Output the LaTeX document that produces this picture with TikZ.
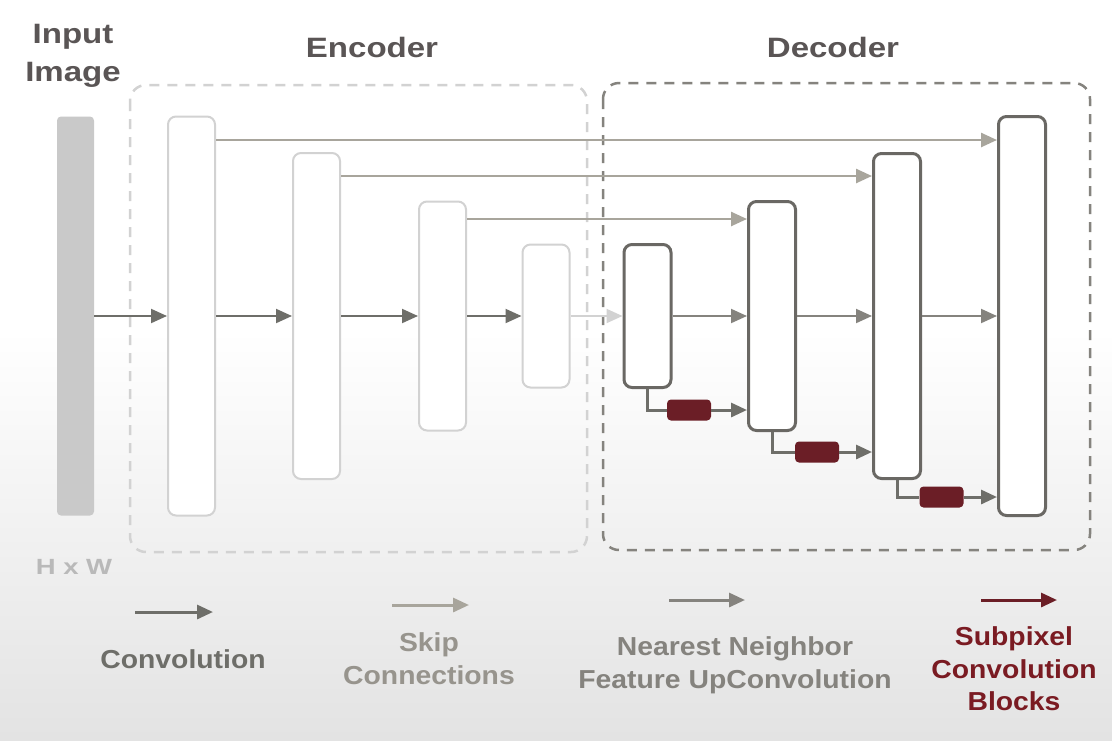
\documentclass[tikz,border=0pt]{standalone}
\usepackage{fontspec}
\setmainfont{Liberation Sans}
\usepackage{tikz}
\usetikzlibrary{arrows.meta, calc, positioning}
\definecolor{titlegray}{HTML}{5A5555}
\definecolor{convgray}{HTML}{6E6E69}
\definecolor{skipgray}{HTML}{A8A59C}
\definecolor{nngray}{HTML}{85837E}
\definecolor{encline}{HTML}{D2D2D2}
\definecolor{decline}{HTML}{6A6864}
\definecolor{subred}{HTML}{6B1E26}

\begin{document}
\begin{tikzpicture}[x=1pt, y=-1pt,
    tip/.style={-{Triangle[length=16pt,width=14pt]}},
    enc/.style={draw=encline, line width=2pt, rounded corners=8pt, fill=white, minimum width=47pt, inner sep=0pt},
    dec/.style={draw=decline, line width=3pt, rounded corners=8pt, fill=white, minimum width=47pt, inner sep=0pt},
    sub/.style={fill=subred, rounded corners=4pt, minimum width=44pt, minimum height=21pt, inner sep=0pt},
    frame/.style={line width=2.5pt, dash pattern=on 10pt off 8pt, rounded corners=16pt},
    title/.style={font=\bfseries\fontsize{28}{38}\selectfont, text=titlegray, xscale=1.18, align=center},
    lbl/.style={font=\bfseries\fontsize{26}{33}\selectfont, xscale=1.09, align=center}]
    \useasboundingbox (0,0) rectangle (1112,740);
    \fill[white] (0,0) rectangle (1112,330);
    \shade[top color=white, bottom color=gray!22] (0,330) rectangle (1112,740);

    \node[title] (ti) at (73,56) {Input\\Image};
    \node[title] (te) at (372,47) {Encoder};
    \node[title] (td) at (833,47) {Decoder};
    \node[font=\bfseries\fontsize{22}{26}\selectfont, text=gray!55, xscale=1.25] (hw) at (74,567) {H x W};

    \draw[frame, draw=encline] (130,85) rectangle (587,552);
    \draw[frame, draw=nngray] (603,83) rectangle (1090,550);

    \node[fill=gray!42, rounded corners=4pt, minimum width=37pt, minimum height=399pt, inner sep=0pt] (in) at (75.5,316) {};
    \node[enc, minimum height=399pt] (e1) at (191.5,316) {};
    \node[enc, minimum height=326pt] (e2) at (316.5,316) {};
    \node[enc, minimum height=229pt] (e3) at (442.5,316) {};
    \node[enc, minimum height=143pt] (e4) at (546,316) {};
    \node[dec, minimum height=143pt] (d1) at (647.5,316) {};
    \node[dec, minimum height=229pt] (d2) at (772,316) {};
    \node[dec, minimum height=325pt] (d3) at (897,316) {};
    \node[dec, minimum height=399pt] (d4) at (1022,316) {};
    \node[sub] (r1) at (689,410) {};
    \node[sub] (r2) at (817,452) {};
    \node[sub] (r3) at (941.5,497) {};

    \draw[tip, convgray, line width=2pt]
    (in) edge (e1)
    (e1) edge (e2)
    (e2) edge (e3)
    (e3) edge (e4);
    \draw[tip, encline, line width=2pt] (e4) -- (d1);
    \draw[tip, nngray, line width=2pt]
    (d1) edge (d2)
    (d2) edge (d3)
    (d3) edge (d4);

    \draw[tip, skipgray, line width=2.5pt] (e1.east |- 0,140) -- (d4.west |- 0,140);
    \draw[tip, skipgray, line width=2.5pt] (e2.east |- 0,176) -- (d3.west |- 0,176);
    \draw[tip, skipgray, line width=2.5pt] (e3.east |- 0,219) -- (d2.west |- 0,219);

    \draw[convgray, line width=3pt] (d1.south) |- (r1.west);
    \draw[tip, convgray, line width=3pt] (r1.east) -- (d2.west |- r1);
    \draw[convgray, line width=3pt] (d2.south) |- (r2.west);
    \draw[tip, convgray, line width=3pt] (r2.east) -- (d3.west |- r2);
    \draw[convgray, line width=3pt] (d3.south) |- (r3.west);
    \draw[tip, convgray, line width=3pt] (r3.east) -- (d4.west |- r3);

    \coordinate (c1) at (135,612);
    \coordinate (c2) at (213,612);
    \coordinate (s1) at (392,605);
    \coordinate (s2) at (469,605);
    \coordinate (n1) at (669,600);
    \coordinate (n2) at (745,600);
    \coordinate (p1) at (981,600);
    \coordinate (p2) at (1057,600);
    \draw[tip, convgray, line width=3pt] (c1) -- (c2);
    \draw[tip, skipgray, line width=3pt] (s1) -- (s2);
    \draw[tip, nngray, line width=3pt] (n1) -- (n2);
    \draw[tip, subred, line width=3pt] (p1) -- (p2);

    \node[lbl, text=convgray] (lc) at (183,659) {Convolution};
    \node[lbl, text=skipgray!90!black] (ls) at (429,659) {Skip\\Connections};
    \node[lbl, text=nngray] (ln) at (735,665) {Nearest Neighbor\\Feature UpConvolution};
    \node[lbl, text=subred!90!red, font=\bfseries\fontsize{26}{32.5}\selectfont] (lp) at (1014,669) {Subpixel\\Convolution\\Blocks};
\end{tikzpicture}
\end{document}
